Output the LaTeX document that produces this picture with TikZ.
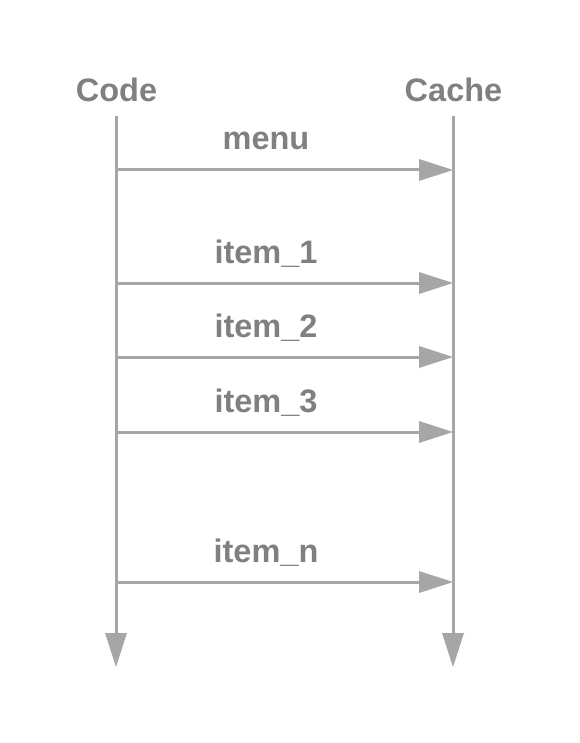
\documentclass[tikz,border=0pt]{standalone}
\usepackage{fontspec}
\setmainfont{Liberation Sans}
\usetikzlibrary{arrows.meta}
\definecolor{txtgray}{HTML}{808080}
\definecolor{linegray}{HTML}{A6A6A6}
\begin{document}
\begin{tikzpicture}[x=1pt,y=-1pt,
  lbl/.style={text=txtgray,font=\fontsize{32.5}{38}\selectfont\bfseries,inner sep=0pt,anchor=base},
  msg/.style={draw=linegray,line width=3pt,-{Triangle[length=34pt,width=22pt,line width=0pt]}}]
\useasboundingbox (0,0) rectangle (579,743);
\node[lbl] (code) at (116.5,102) {Code};
\node[lbl] (cache) at (453.5,102) {Cache};
\coordinate (codeTop) at (116,116);
\coordinate (cacheTop) at (453,116);
\coordinate (codeEnd) at (116,667);
\coordinate (cacheEnd) at (453,667);
\draw[msg] (codeTop) -- (codeEnd);
\draw[msg] (cacheTop) -- (cacheEnd);
\foreach \n/\y/\t in {m/170/menu,a/283/item\_1,b/357/item\_2,c/432/item\_3,n/582/item\_n}{
  \coordinate (s\n) at (116,\y);
  \coordinate (e\n) at (453,\y);
  \draw[msg] (s\n) -- (e\n);
  \node[lbl] (l\n) at (266,\y-20) {\t};
}
\end{tikzpicture}
\end{document}
